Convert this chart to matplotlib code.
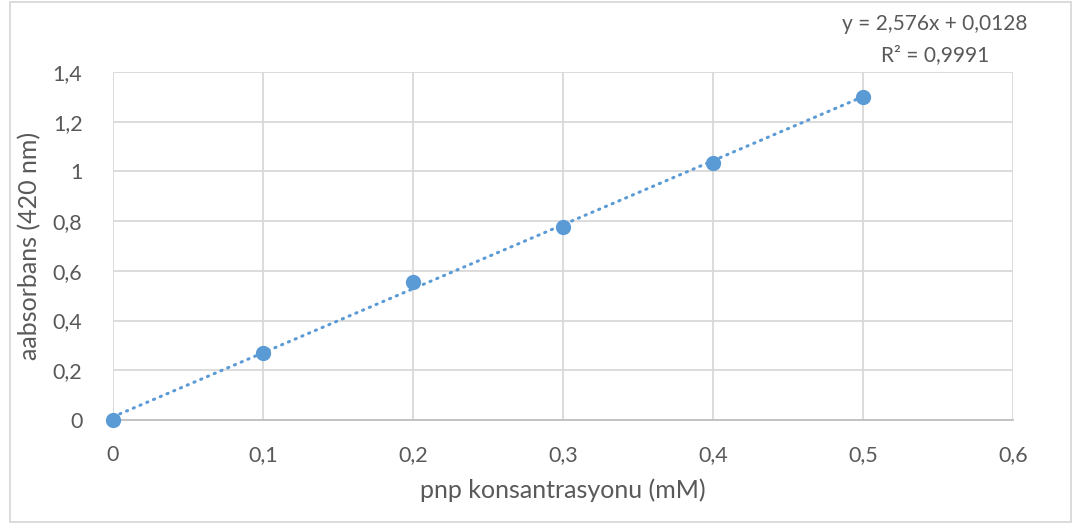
import matplotlib
matplotlib.use("Agg")
import matplotlib.pyplot as plt
from matplotlib.patches import Rectangle

# Calibration data: p-nitrophenol concentration vs absorbance at 420 nm
concentration_mM = [0.0, 0.1, 0.2, 0.3, 0.4, 0.5]
absorbance = [0.0, 0.271, 0.555, 0.778, 1.035, 1.301]

# Linear trendline parameters
slope = 2.576
intercept = 0.0128
r_squared = 0.9991

x_ticks = [0, 0.1, 0.2, 0.3, 0.4, 0.5, 0.6]
y_ticks = [0, 0.2, 0.4, 0.6, 0.8, 1.0, 1.2, 1.4]

def comma(v):
    s = f"{v:g}"
    return s.replace(".", ",")

plt.rcParams['font.family'] = ['Lato', 'DejaVu Sans']
text_color = "#595959"
blue = "#5b9bd5"
grid_color = "#d9d9d9"

W, H = 1089, 525
fig = plt.figure(figsize=(W / 100, H / 100), dpi=100)

# outer chart border
fig.patches.append(Rectangle((9.5 / W, 1 - 521.5 / H), (1071 - 9.5) / W, (521.5 - 1.5) / H,
                             transform=fig.transFigure, fill=False,
                             edgecolor="#d9d9d9", linewidth=1.3))

ax = fig.add_axes([113 / W, 1 - 420 / H, (1013 - 113) / W, (420 - 72) / H])
ax.set_xlim(0, 0.6)
ax.set_ylim(0, 1.4)
ax.set_xticks(x_ticks)
ax.set_yticks(y_ticks)
ax.set_xticklabels([comma(v) for v in x_ticks])
ax.set_yticklabels([comma(v) for v in y_ticks])
ax.tick_params(length=0, labelsize=15.5, colors=text_color)
ax.tick_params(axis='y', pad=22)
ax.tick_params(axis='x', pad=18)
ax.grid(True, color=grid_color, linewidth=1.3)
ax.set_axisbelow(True)
for side in ["top", "right", "left"]:
    ax.spines[side].set_visible(False)
ax.spines["bottom"].set_color("#bfbfbf")
ax.spines["bottom"].set_linewidth(1.3)

# trendline
xs = [concentration_mM[0], concentration_mM[-1]]
ys = [slope * x + intercept for x in xs]
ax.plot(xs, ys, color=blue, linewidth=2.2, linestyle=(0, (0.4, 2.0)),
        dash_capstyle="round", solid_capstyle="round", zorder=3)

ax.plot(concentration_mM, absorbance, linestyle="none", marker="o",
        markersize=11, color=blue, markeredgewidth=0, zorder=4, clip_on=False)

ax.set_xlabel("pnp konsantrasyonu (mM)", fontsize=18, color=text_color, labelpad=10)
ax.set_ylabel("aabsorbans (420 nm)", fontsize=18, color=text_color, labelpad=8)

fig.text(935 / W, 1 - 24 / H, f"y = {comma(slope)}x + {comma(intercept)}",
         ha="center", va="center", fontsize=15, color=text_color)
fig.text(935 / W, 1 - 55 / H, f"R² = {comma(r_squared)}",
         ha="center", va="center", fontsize=15, color=text_color)

fig.savefig("out.png", dpi=100)
